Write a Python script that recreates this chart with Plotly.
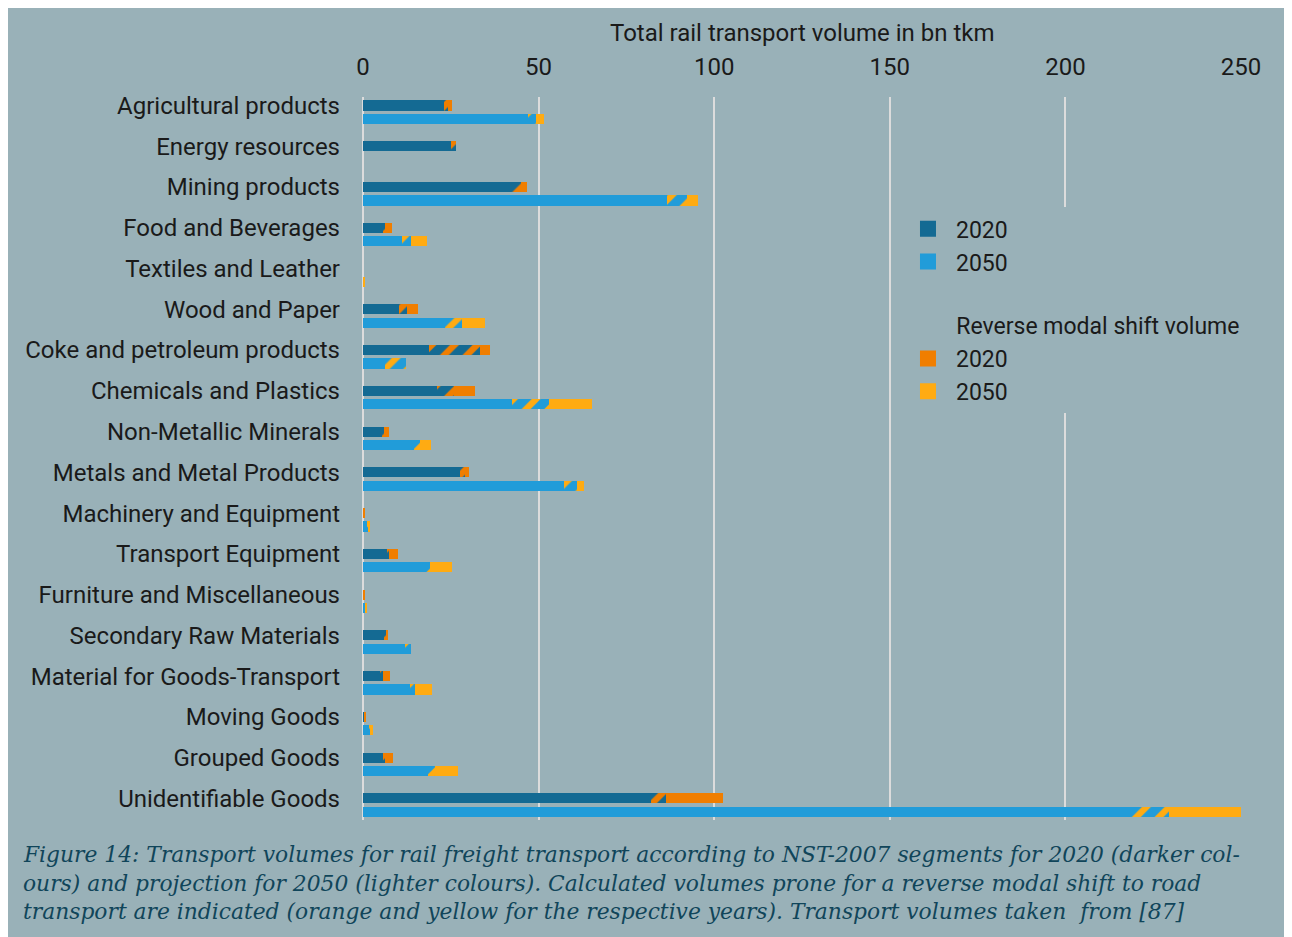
import plotly.graph_objects as go

# Categories (NST-2007 segments), top to bottom
categories = [
    'Agricultural products', 'Energy resources', 'Mining products', 'Food and Beverages',
    'Textiles and Leather', 'Wood and Paper', 'Coke and petroleum products',
    'Chemicals and Plastics', 'Non-Metallic Minerals', 'Metals and Metal Products',
    'Machinery and Equipment', 'Transport Equipment', 'Furniture and Miscellaneous',
    'Secondary Raw Materials', 'Material for Goods-Transport', 'Moving Goods',
    'Grouped Goods', 'Unidentifiable Goods',
]

# 2020 (bn tkm): rail only / rail volume prone to shift (hatched) / extra shift volume
rail_2020 = [23.0, 25.0, 42.1, 5.6, 0.0, 10.3, 18.9, 21.0, 5.6, 27.6, 0.0, 6.9, 0.0, 6.1, 5.1, 0.5, 5.8, 81.9]
overlap_2020 = [1.1, 1.6, 2.9, 0.6, 0.0, 2.1, 14.4, 4.9, 0.4, 1.4, 0.0, 0.5, 0.0, 0.6, 0.5, 0.0, 0.5, 4.4]
shift_2020 = [1.2, 0.0, 1.6, 2.0, 0.0, 3.2, 2.8, 6.0, 1.4, 1.2, 0.6, 2.5, 0.4, 0.3, 2.0, 0.2, 2.2, 16.1]

# 2050 projection (bn tkm)
rail_2050 = [47.0, 0.0, 86.5, 11.0, 0.0, 23.3, 6.3, 42.3, 14.5, 57.2, 1.2, 17.4, 0.6, 12.0, 13.4, 1.8, 18.6, 218.5]
overlap_2050 = [2.3, 0.0, 5.7, 2.6, 0.0, 4.8, 5.9, 10.7, 1.7, 3.8, 0.5, 1.7, 0.0, 1.7, 1.4, 0.3, 1.9, 11.0]
shift_2050 = [2.1, 0.0, 3.1, 4.5, 0.3, 6.6, 0.0, 12.1, 3.2, 2.0, 0.4, 6.2, 0.3, 0.0, 4.8, 0.7, 6.5, 20.8]

x_ticks = [0, 50, 100, 150, 200, 250]

caption_lines = [
    'Figure 14: Transport volumes for rail freight transport according to NST-2007 segments for 2020 (darker col-',
    'ours) and projection for 2050 (lighter colours). Calculated volumes prone for a reverse modal shift to road',
    'transport are indicated (orange and yellow for the respective years). Transport volumes taken  from [87]',
]

BG = '#99b1b8'
DARK_BLUE = '#146a93'
LIGHT_BLUE = '#219cd9'
ORANGE = '#f07e00'
YELLOW = '#ffab12'
TEXT = '#1a1a1a'
FONT = 'Roboto'
NBSP = '\u00a0'

pos = list(range(len(categories)))
pos_2020 = [p for p in pos]
pos_2050 = [p + 0.33 for p in pos]
BAR_W = 0.25

fig = go.Figure()


def add_year(y, rail, overlap, shift, base_col, shift_col):
    # Solid rail volume
    fig.add_trace(go.Bar(
        y=y, x=rail, orientation='h', width=BAR_W,
        marker=dict(color=base_col, line_width=0),
        showlegend=False, hoverinfo='skip',
    ))
    # Rail volume prone to reverse modal shift (hatched)
    fig.add_trace(go.Bar(
        y=y, x=overlap, orientation='h', width=BAR_W,
        marker=dict(color=base_col, line_width=0,
                    pattern=dict(shape='/', fgcolor=shift_col, bgcolor=base_col,
                                 fgopacity=1, size=16, solidity=0.4)),
        showlegend=False, hoverinfo='skip',
    ))
    # Additional reverse modal shift volume
    fig.add_trace(go.Bar(
        y=y, x=shift, orientation='h', width=BAR_W,
        marker=dict(color=shift_col, line_width=0),
        showlegend=False, hoverinfo='skip',
    ))


add_year(pos_2020, rail_2020, overlap_2020, shift_2020, DARK_BLUE, ORANGE)
add_year(pos_2050, rail_2050, overlap_2050, shift_2050, LIGHT_BLUE, YELLOW)

# Legend entries (square swatches)
legend_items = [
    ('2020', DARK_BLUE, 'rail', None),
    ('2050', LIGHT_BLUE, 'rail', None),
    ('2020', ORANGE, 'shift', NBSP * 9 + 'Reverse modal shift volume'),
    ('2050', YELLOW, 'shift', NBSP * 9 + 'Reverse modal shift volume'),
]
for rank, (label, col, group, gtitle) in enumerate(legend_items):
    fig.add_trace(go.Scatter(
        x=[None], y=[None], mode='markers', name=label,
        marker=dict(symbol='square', size=17, color=col),
        legendgroup=group, legendrank=rank + 1,
        legendgrouptitle=dict(text=gtitle, font=dict(size=23, color=TEXT)) if gtitle else None,
        hoverinfo='skip',
    ))

fig.update_layout(
    width=1284, height=929,
    margin=dict(l=355, r=51, t=89, b=117),
    barmode='stack',
    paper_bgcolor=BG,
    plot_bgcolor=BG,
    font=dict(family=FONT, size=24, color=TEXT),
    showlegend=True,
    legend=dict(
        x=0.6116, y=0.8475, xanchor='left', yanchor='top',
        bgcolor=BG, font=dict(size=23, color=TEXT),
        traceorder='grouped', tracegroupgap=31, itemwidth=46,
    ),
)

fig.update_xaxes(
    side='top', range=[0, 250], tickvals=x_ticks,
    showgrid=True, gridcolor='#dcdcdc', gridwidth=2,
    zeroline=True, zerolinecolor='#dcdcdc', zerolinewidth=2,
    showline=False, ticks='', ticklabelstandoff=16,
    tickfont=dict(size=24, color=TEXT),
)

fig.update_yaxes(
    range=[17.53, -0.21], tickvals=pos, ticktext=categories,
    showgrid=False, zeroline=False, showline=False, ticks='',
    ticklabelstandoff=22, tickfont=dict(size=24, color=TEXT),
)

# Axis title above tick labels
fig.add_annotation(
    text='Total rail transport volume in bn tkm', xref='paper', yref='paper',
    x=0.5, y=1.0885, xanchor='center', yanchor='middle', showarrow=False,
    font=dict(size=24, color=TEXT),
)

# Figure caption
caption_y = [-0.0484, -0.0885, -0.1272]
for line, cy in zip(caption_lines, caption_y):
    fig.add_annotation(
        text='<i>' + line + '</i>', xref='paper', yref='paper',
        x=-0.3895, y=cy, xanchor='left', yanchor='middle', showarrow=False,
        font=dict(family='DejaVu Serif', size=21.8, color='#10455a'),
    )

fig.write_html('out.html')
